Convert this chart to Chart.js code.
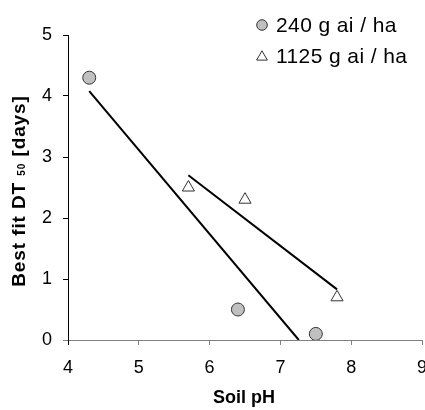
<!DOCTYPE html>
<html>
<head>
<meta charset="utf-8">
<title>DT50 vs soil pH</title>
<script src="https://cdn.jsdelivr.net/npm/chart.js@4/dist/chart.umd.min.js"></script>
<style>
  html, body { margin: 0; padding: 0; background: #fff; overflow: hidden; }
  #clip { width: 425px; height: 410px; overflow: hidden; }
  #wrap { position: relative; width: 430px; height: 410px; }
</style>
</head>
<body>
<div id="clip"><div id="wrap"><canvas id="chart"></canvas></div></div>
<script>
// --- data ---
const seriesLabels = ['240 g ai / ha', '1125 g ai / ha'];
const ph240 = [4.3, 6.4, 7.5];
const dt240 = [4.3, 0.5, 0.1];
const ph1125 = [5.7, 6.5, 7.8];
const dt1125 = [2.5, 2.3, 0.7];
// end points of the two fitted lines
const fitPh240 = [4.3, 7.26];
const fitDt240 = [4.08, 0];
const fitPh1125 = [5.7, 7.8];
const fitDt1125 = [2.7, 0.83];
const xTicks = [4, 5, 6, 7, 8, 9];
const yTicks = [0, 1, 2, 3, 4, 5];
const xTitle = 'Soil pH';
const yTitleParts = ['Best fit DT ', '50', ' [days]'];

const FONT = "'Liberation Sans', Arial, sans-serif";
const CIRCLE_FILL = '#c0c0c0';
const MARK_EDGE = '#333';

const toPoints = (xs, ys) => xs.map((x, i) => ({ x: x, y: ys[i] }));

// draws the axis titles and the legend box (top right)
const decorations = {
    id: 'decorations',
    afterDraw(chart) {
        const ctx = chart.ctx;
        ctx.save();
        ctx.fillStyle = '#000';

        // x title
        ctx.font = 'bold 18px ' + FONT;
        ctx.textAlign = 'center';
        ctx.textBaseline = 'middle';
        ctx.fillText(xTitle, 244, 398);

        // y title with the subscript "50"
        ctx.save();
        ctx.translate(25, 191);
        ctx.rotate(-Math.PI / 2);
        ctx.letterSpacing = '0.9px';
        const big = 'bold 19px ' + FONT;
        const small = 'bold 10px ' + FONT;
        ctx.font = big;
        const w0 = ctx.measureText(yTitleParts[0]).width;
        const w2 = ctx.measureText(yTitleParts[2]).width;
        ctx.font = small;
        const w1 = ctx.measureText(yTitleParts[1]).width;
        let x = -(w0 + w1 + w2) / 2;
        ctx.textAlign = 'left';
        ctx.textBaseline = 'alphabetic';
        ctx.font = big;
        ctx.fillText(yTitleParts[0], x, 0);
        x += w0;
        ctx.font = small;
        ctx.fillText(yTitleParts[1], x, 0);
        x += w1;
        ctx.font = big;
        ctx.fillText(yTitleParts[2], x, 0);
        ctx.restore();

        // legend
        const rows = [25, 56];
        ctx.font = '21px ' + FONT;
        ctx.letterSpacing = '0.4px';
        ctx.textAlign = 'left';
        ctx.textBaseline = 'middle';
        ctx.lineWidth = 1;
        ctx.strokeStyle = MARK_EDGE;

        ctx.beginPath();
        ctx.arc(262, rows[0], 5.3, 0, Math.PI * 2);
        ctx.fillStyle = CIRCLE_FILL;
        ctx.fill();
        ctx.stroke();

        const r = 6.2, cx = 262, cy = rows[1] + 1;
        ctx.beginPath();
        ctx.moveTo(cx, cy - r);
        ctx.lineTo(cx + r * 0.866, cy + r / 2);
        ctx.lineTo(cx - r * 0.866, cy + r / 2);
        ctx.closePath();
        ctx.fillStyle = '#fff';
        ctx.fill();
        ctx.stroke();

        ctx.fillStyle = '#000';
        ctx.fillText(seriesLabels[0], 276, rows[0] + 1);
        ctx.fillText(seriesLabels[1], 276, rows[1] + 1);
        ctx.restore();
    }
};

new Chart(document.getElementById('chart'), {
    type: 'scatter',
    data: {
        datasets: [
            {
                label: seriesLabels[0],
                data: toPoints(ph240, dt240),
                pointStyle: 'circle',
                pointRadius: 6.5,
                backgroundColor: CIRCLE_FILL,
                borderColor: MARK_EDGE,
                borderWidth: 1,
                order: 0
            },
            {
                label: seriesLabels[1],
                data: toPoints(ph1125, dt1125),
                pointStyle: 'triangle',
                pointRadius: 7,
                backgroundColor: '#fff',
                borderColor: MARK_EDGE,
                borderWidth: 1,
                order: 0
            },
            {
                label: 'fit 240',
                data: toPoints(fitPh240, fitDt240),
                showLine: true,
                pointRadius: 0,
                borderColor: '#000',
                borderWidth: 2,
                order: 1
            },
            {
                label: 'fit 1125',
                data: toPoints(fitPh1125, fitDt1125),
                showLine: true,
                pointRadius: 0,
                borderColor: '#000',
                borderWidth: 2,
                order: 1
            }
        ]
    },
    options: {
        responsive: true,
        maintainAspectRatio: false,
        animation: false,
        devicePixelRatio: 1,
        layout: { padding: { top: 35, right: 4, left: 0, bottom: 0 } },
        plugins: {
            legend: { display: false },
            tooltip: { enabled: false }
        },
        scales: {
            x: {
                type: 'linear',
                min: 4,
                max: 9,
                afterBuildTicks: (scale) => { scale.ticks = xTicks.map(v => ({ value: v })); },
                afterFit: (scale) => {
                    scale.height = 70;
                    scale.paddingLeft = 0;
                    scale.paddingRight = 0;
                },
                grid: {
                    drawOnChartArea: false,
                    drawTicks: true,
                    tickLength: 5,
                    color: (c) => (c.index === 0 ? '#000' : '#808080')
                },
                border: { color: '#808080', width: 1 },
                ticks: {
                    color: '#000',
                    padding: 12,
                    maxRotation: 0,
                    font: { family: FONT, size: 18 }
                }
            },
            y: {
                min: 0,
                max: 5,
                afterBuildTicks: (scale) => { scale.ticks = yTicks.map(v => ({ value: v })); },
                afterFit: (scale) => {
                    scale.width = 68;
                    scale.paddingTop = 0;
                    scale.paddingBottom = 0;
                },
                grid: {
                    drawOnChartArea: false,
                    drawTicks: true,
                    tickLength: 5,
                    color: (c) => (c.tick && c.tick.value === 0 ? '#808080' : '#000')
                },
                border: { color: '#000', width: 1 },
                ticks: {
                    color: '#000',
                    padding: 11,
                    font: { family: FONT, size: 18 }
                }
            }
        }
    },
    plugins: [decorations]
});
</script>
</body>
</html>
